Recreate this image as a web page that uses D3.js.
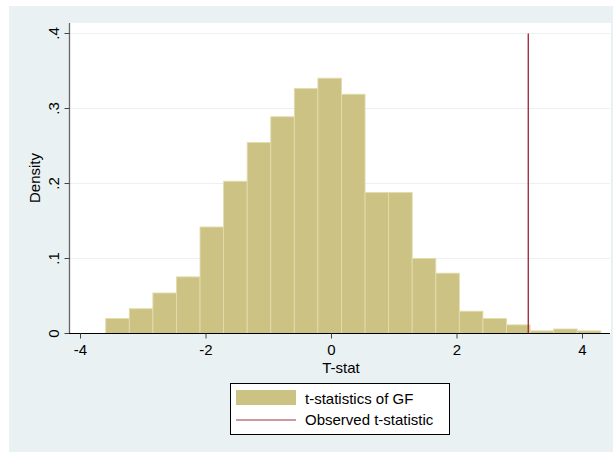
<!DOCTYPE html>
<html>
<head>
<meta charset="utf-8">
<script src="https://cdn.jsdelivr.net/npm/d3@7"></script>
<style>
  html, body { margin: 0; padding: 0; background: #ffffff; }
  svg { display: block; font-family: "Liberation Sans", Arial, Helvetica, sans-serif; }
</style>
</head>
<body>
<svg id="chart" width="613" height="452"></svg>
<script>
// ---- data ----
const binStart = -3.59;
const binWidth = 0.3757;
const densities = [0.020, 0.033, 0.054, 0.0755, 0.142, 0.203, 0.2547, 0.289, 0.3267, 0.3404,
                   0.319, 0.188, 0.188, 0.100, 0.0804, 0.0297, 0.020, 0.0115, 0.0035, 0.006, 0.0035];
const observedT = 3.144;
const xTicks = [-4, -2, 0, 2, 4];
const xTickLabels = ["-4", "-2", "0", "2", "4"];
const yTicks = [0, 0.1, 0.2, 0.3, 0.4];
const yTickLabels = ["0", ".1", ".2", ".3", ".4"];
const legendLabels = ["t-statistics of GF", "Observed t-statistic"];
const xTitle = "T-stat";
const yTitle = "Density";

const bins = densities.map((d, i) => ({ x0: binStart + i * binWidth, x1: binStart + (i + 1) * binWidth, d }));

const svg = d3.select("#chart");
const barFill = "#cbc283";
const barEdge = "#e2dcae";
const redCol = "#a3313c";
const bg = "#eaf1f3";
const FS = 15;

// outer background
svg.append("rect").attr("x", 9).attr("y", 6).attr("width", 604).attr("height", 446).attr("fill", bg);
// plot region
const plotL = 70, plotR = 611, plotT = 23;
const x = d3.scaleLinear().domain([-4, 4]).range([80, 582]);
const y = d3.scaleLinear().domain([0, 0.4]).range([333.5, 33.5]);
svg.append("rect").attr("x", plotL).attr("y", plotT).attr("width", plotR - plotL).attr("height", y(0) - plotT).attr("fill", "#ffffff");

// gridlines
svg.append("g").selectAll("line").data(yTicks.filter(t => t > 0)).join("line")
  .attr("x1", plotL).attr("x2", plotR - 1)
  .attr("y1", d => y(d)).attr("y2", d => y(d))
  .attr("stroke", bg).attr("stroke-width", 1.2);

// bars
svg.append("g").selectAll("rect").data(bins).join("rect")
  .attr("x", d => x(d.x0))
  .attr("width", d => x(d.x1) - x(d.x0))
  .attr("y", d => y(d.d))
  .attr("height", d => y(0) - y(d.d))
  .attr("fill", barFill)
  .attr("stroke", barEdge)
  .attr("stroke-width", 0.9);

// observed line
svg.append("line")
  .attr("x1", x(observedT)).attr("x2", x(observedT))
  .attr("y1", y(0.4)).attr("y2", y(0))
  .attr("stroke", redCol).attr("stroke-width", 1.4);

// y axis
const yAxis = d3.axisLeft(y).tickValues(yTicks).tickFormat((d, i) => yTickLabels[i]).tickSize(5).tickPadding(5);
const gy = svg.append("g").attr("transform", "translate(69.5,0)").call(yAxis);
gy.select(".domain").attr("d", `M0,${plotT}V${y(0)}`).attr("stroke", "#666").attr("stroke-width", 1.3);
gy.selectAll(".tick line").attr("stroke", "#444");
gy.selectAll(".tick text")
  .attr("font-size", FS).attr("fill", "#000")
  .attr("text-anchor", "middle")
  .attr("transform", "rotate(-90)")
  .attr("x", d => -y(d))
  .attr("y", -11)
  .attr("dy", "0")
  .style("font-family", "Liberation Sans, Arial, sans-serif");
gy.selectAll(".tick").each(function(d) {
  d3.select(this).attr("transform", "translate(0,0)");
  d3.select(this).select("line").attr("y1", y(d)).attr("y2", y(d));
});

// x axis
const xAxis = d3.axisBottom(x).tickValues(xTicks).tickFormat((d, i) => xTickLabels[i]).tickSize(5).tickPadding(6);
const gx = svg.append("g").attr("transform", `translate(0,${y(0)})`).call(xAxis);
gx.select(".domain").attr("d", `M69,0H${plotR - 1}`).attr("stroke", "#000").attr("stroke-width", 1.2);
gx.selectAll(".tick line").attr("stroke", "#444");
gx.selectAll(".tick text").attr("font-size", FS).attr("fill", "#000")
  .style("font-family", "Liberation Sans, Arial, sans-serif");

// axis titles
svg.append("text").attr("x", 341).attr("y", 373).attr("text-anchor", "middle")
  .attr("font-size", FS).text(xTitle);
svg.append("text").attr("transform", "translate(40,178) rotate(-90)").attr("text-anchor", "middle")
  .attr("font-size", FS).text(yTitle);

// legend
const lg = svg.append("g");
lg.append("rect").attr("x", 230.5).attr("y", 383.5).attr("width", 219).attr("height", 51)
  .attr("fill", "#ffffff").attr("stroke", "#000").attr("stroke-width", 1);
lg.append("rect").attr("x", 236).attr("y", 390).attr("width", 60).attr("height", 15).attr("fill", barFill);
lg.append("line").attr("x1", 236).attr("x2", 296).attr("y1", 420).attr("y2", 420)
  .attr("stroke", redCol).attr("stroke-width", 1.2);
lg.selectAll("text.leg").data(legendLabels).join("text").attr("class", "leg")
  .attr("x", 305).attr("y", (d, i) => 404 + i * 21)
  .attr("font-size", FS).text(d => d);
</script>
</body>
</html>
